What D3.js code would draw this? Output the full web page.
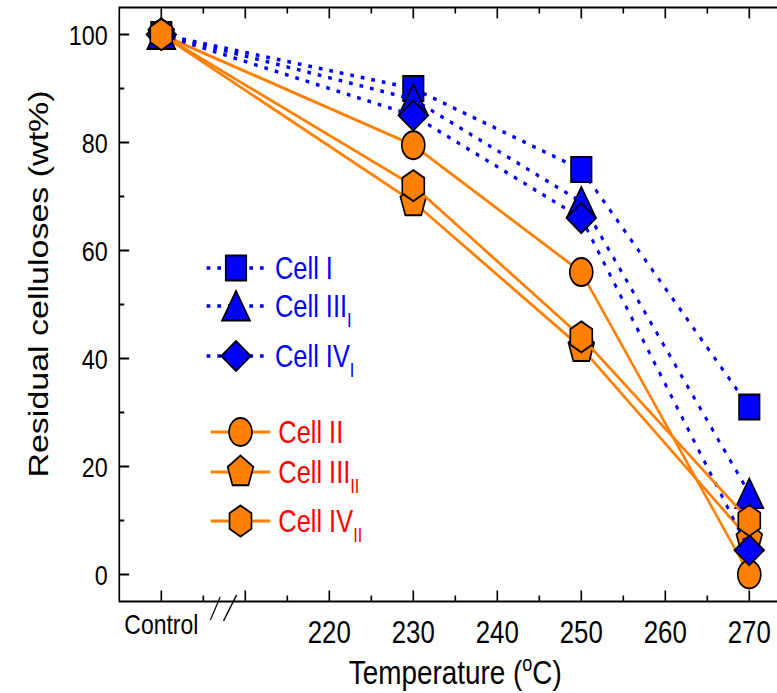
<!doctype html>
<html>
<head>
<meta charset="UTF-8">
<title>Residual celluloses</title>
<script src="https://d3js.org/d3.v7.min.js"></script>
<style>
    body { margin: 0; background: #fff; }
    svg { display: block; background: #fff; }
    text { font-family: "Liberation Sans", Arial, sans-serif; fill: #000; }
</style>
</head>
<body>
<script>
    // data
    var temps = ['Control', 230, 250, 270];
    var cellI = [100, 90, 75, 31];
    var cellIIIi = [100, 88, 69, 15];
    var cellIVi = [100, 85, 66, 4.5];
    var cellII = [100, 79.5, 56, 0];
    var cellIIIii = [100, 69, 42, 6.5];
    var cellIVii = [100, 72, 44, 10];
    var xTickLabels = [220, 230, 240, 250, 260, 270];
    var yTickLabels = [0, 20, 40, 60, 80, 100];

    var width = 777, height = 693;
    var squash = 0.82; // the whole figure is a bit narrow

    var blue = '#0000ff', orange = '#ff8000', red = '#ff0000';

    // the order here is the drawing order
    var series = [
        {name: 'Cell II', sub: '', values: cellII, group: 'orange', shape: 'circle'},
        {name: 'Cell III', sub: 'II', values: cellIIIii, group: 'orange', shape: 'pentagon'},
        {name: 'Cell I', sub: '', values: cellI, group: 'blue', shape: 'square'},
        {name: 'Cell III', sub: 'I', values: cellIIIi, group: 'blue', shape: 'triangle'},
        {name: 'Cell IV', sub: 'I', values: cellIVi, group: 'blue', shape: 'diamond'},
        {name: 'Cell IV', sub: 'II', values: cellIVii, group: 'orange', shape: 'hexagon'}
    ];
    var legendOrder = ['Cell I', 'Cell IIII', 'Cell IVI', 'Cell II', 'Cell IIIII', 'Cell IVII'];
    var legendY = [268, 306, 356, 432, 472, 521];

    function xVal(t) { return t === 'Control' ? 200 : t; }

    var x = d3.scaleLinear().domain([195, 275]).range([145.5, 965]);
    var y = d3.scaleLinear().domain([-5, 105]).range([601.5, 7.5]);

    function polygon(n, r, rot) {
        var pts = d3.range(n).map(function(i) {
            var a = rot + i * 2 * Math.PI / n;
            return [r * Math.cos(a), r * Math.sin(a)];
        });
        return 'M' + pts.map(function(p) { return p[0].toFixed(2) + ',' + p[1].toFixed(2); }).join('L') + 'Z';
    }

    function shapePath(shape) {
        if (shape === 'circle') return 'M-14,0A14,14 0 1,0 14,0A14,14 0 1,0 -14,0Z';
        if (shape === 'square') return 'M-12.5,-12.5L12.5,-12.5L12.5,12.5L-12.5,12.5Z';
        if (shape === 'triangle') return 'M0,-15L17,14.5L-17,14.5Z';
        if (shape === 'diamond') return 'M0,-15L18,0L0,15L-18,0Z';
        if (shape === 'pentagon') return polygon(5, 16.5, -Math.PI / 2);
        return polygon(6, 15.5, -Math.PI / 2);
    }

    var svg = d3.select('body').append('svg')
        .attr('width', width)
        .attr('height', height);

    var g = svg.append('g').attr('transform', 'scale(' + squash + ',1)');

    // frame
    var x0 = x(195), x1 = x(275), yb = y(-5), yt = y(105);
    g.append('path')
        .attr('d', 'M' + x0 + ',' + yt + 'L' + x1 + ',' + yt + 'L' + x1 + ',' + yb + 'L' + x0 + ',' + yb + 'Z')
        .attr('fill', 'none')
        .attr('stroke', '#000')
        .attr('stroke-width', 2);

    // x ticks (inward, bottom and top)
    var xTicks = d3.range(200, 276, 5);
    xTicks.forEach(function(v) {
        var len = v % 10 === 0 ? 11 : 6;
        g.append('line').attr('x1', x(v)).attr('x2', x(v)).attr('y1', yb).attr('y2', yb - len)
            .attr('stroke', '#000').attr('stroke-width', 2);
        g.append('line').attr('x1', x(v)).attr('x2', x(v)).attr('y1', yt).attr('y2', yt + len)
            .attr('stroke', '#000').attr('stroke-width', 2);
    });

    // y ticks
    d3.range(0, 101, 10).forEach(function(v) {
        var len = v % 20 === 0 ? 12 : 6;
        g.append('line').attr('x1', x0).attr('x2', x0 + len).attr('y1', y(v)).attr('y2', y(v))
            .attr('stroke', '#000').attr('stroke-width', 2);
    });

    g.selectAll('.ylab').data(yTickLabels).enter().append('text')
        .attr('class', 'ylab')
        .attr('x', x0 - 14)
        .attr('y', function(d) { return y(d); })
        .attr('dy', '0.36em')
        .attr('text-anchor', 'end')
        .attr('font-size', 28.5)
        .text(function(d) { return d; });

    g.selectAll('.xlab').data(xTickLabels).enter().append('text')
        .attr('class', 'xlab')
        .attr('x', function(d) { return x(d); })
        .attr('y', 643)
        .attr('text-anchor', 'middle')
        .attr('font-size', 31.5)
        .text(function(d) { return d; });

    g.append('text')
        .attr('x', x(200))
        .attr('y', 634)
        .attr('text-anchor', 'middle')
        .attr('font-size', 28)
        .text('Control');

    // axis break
    var cx = x(207.5);
    g.append('line').attr('x1', cx - 17).attr('y1', 620).attr('x2', cx - 5).attr('y2', 597)
        .attr('stroke', '#000').attr('stroke-width', 1.5);
    g.append('line').attr('x1', cx - 1).attr('y1', 621).attr('x2', cx + 15).attr('y2', 595)
        .attr('stroke', '#000').attr('stroke-width', 1.5);

    // axis titles
    var xt = g.append('text')
        .attr('x', x(235))
        .attr('y', 684)
        .attr('text-anchor', 'middle')
        .attr('font-size', 34);
    xt.append('tspan').text('Temperature (');
    xt.append('tspan').attr('font-size', 22).attr('dy', -13).text('o');
    xt.append('tspan').attr('dy', 13).text('C)');

    g.append('text')
        .attr('transform', 'translate(58,284) rotate(-90)')
        .attr('text-anchor', 'middle')
        .attr('font-size', 34)
        .text('Residual celluloses (wt%)');

    // series
    var line = d3.line()
        .x(function(d, i) { return x(xVal(temps[i])); })
        .y(function(d) { return y(d); });

    function styleLine(sel, s) {
        if (s.group === 'blue') {
            sel.attr('stroke', blue).attr('stroke-width', 3.5).attr('stroke-dasharray', '4.5,8.5');
        } else {
            sel.attr('stroke', orange).attr('stroke-width', 3);
        }
        return sel;
    }

    series.forEach(function(s) {
        var sg = g.append('g');
        styleLine(sg.append('path').datum(s.values).attr('d', line).attr('fill', 'none'), s);
        sg.selectAll('path.mk').data(s.values).enter().append('path')
            .attr('class', 'mk')
            .attr('d', shapePath(s.shape))
            .attr('transform', function(d, i) { return 'translate(' + x(xVal(temps[i])) + ',' + y(d) + ')'; })
            .attr('fill', s.group === 'blue' ? blue : orange)
            .attr('stroke', '#000')
            .attr('stroke-width', 2);
    });

    // legend
    legendOrder.forEach(function(key, i) {
        var s = series.filter(function(d) { return d.name + d.sub === key; })[0];
        var ly = legendY[i];
        var isBlue = s.group === 'blue';
        var mx = isBlue ? 287.8 : 293.3;
        var lx0 = isBlue ? 252 : 257, lx1 = isBlue ? 325 : 329.5;
        var tx = isBlue ? 335.4 : 339.4;
        styleLine(g.append('line').attr('x1', lx0).attr('x2', lx1).attr('y1', ly).attr('y2', ly), s);
        g.append('path')
            .attr('d', shapePath(s.shape))
            .attr('transform', 'translate(' + mx + ',' + ly + ')')
            .attr('fill', isBlue ? blue : orange)
            .attr('stroke', '#000')
            .attr('stroke-width', 2);
        var t = g.append('text')
            .attr('x', tx)
            .attr('y', ly + 11)
            .attr('font-size', 31)
            .style('fill', isBlue ? blue : red);
        t.append('tspan').text(s.name);
        if (s.sub) {
            t.append('tspan').attr('font-size', 20).attr('dy', 10).text(s.sub);
        }
    });
</script>
</body>
</html>
